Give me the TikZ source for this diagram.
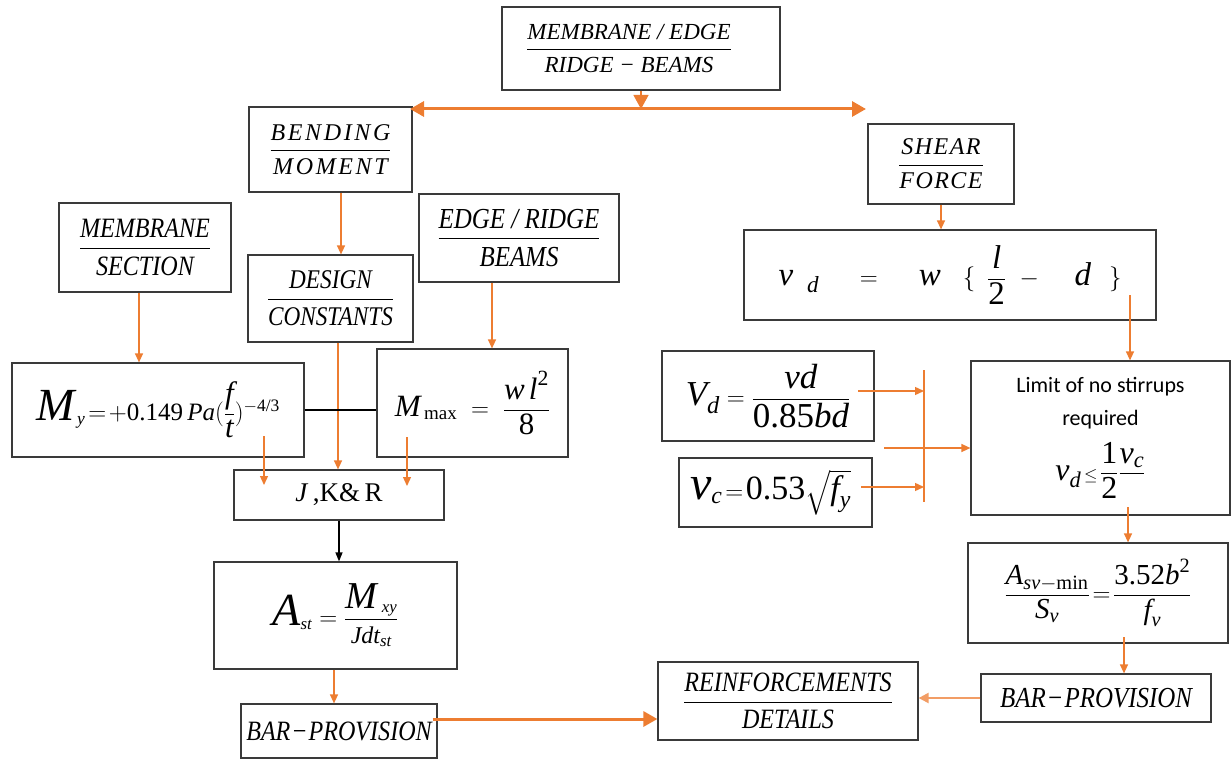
\documentclass[tikz,border=0pt]{standalone}
\usepackage{amsmath}
\usepackage{fontspec}
\setmainfont{Liberation Serif}
\newfontfamily\calibri{Carlito}
\newfontfamily\cnd[FakeStretch=0.86]{Liberation Serif}
\usetikzlibrary{arrows.meta,calc}
\definecolor{orng}{HTML}{ED7D31}
\definecolor{bord}{HTML}{3A3A3A}
\newcommand{\wf}[2]{$\genfrac{}{}{0.9pt}{0}{\mbox{\rule[-0.12em]{0pt}{0pt}#1}}{\mbox{\rule{0pt}{0.85em}#2}}$}
\newcommand{\fs}[1]{\fontsize{#1}{#1}\selectfont}
\newcommand{\mi}[1]{\text{\rmfamily\itshape #1}}
\newcommand{\nr}[1]{\text{\rmfamily\upshape #1}}
\tikzset{
  blk/.style={draw=bord, line width=1.2pt, inner sep=0pt, align=center, text=black},
  oa/.style={draw=orng, line width=1.3pt, -{Triangle[length=9pt,width=8pt]}},
  othick/.style={draw=orng, line width=3pt, -{Triangle[length=14pt,width=15pt]}},
}
\begin{document}
\begin{tikzpicture}[x=1pt,y=-1pt]
\useasboundingbox (0,0) rectangle (1231,759);
% ---- nodes
\node[blk, minimum width=278pt, minimum height=83pt] (top) at (641,48.5)
  {\fs{23}\itshape\wf{MEMBRANE / EDGE}{RIDGE − BEAMS}\hspace*{24pt}};
\node[blk, minimum width=163pt, minimum height=85pt] (bend) at (330.5,149.5)
  {\fs{24}\itshape\addfontfeature{LetterSpace=11}\wf{BENDING}{MOMENT}};
\node[blk, minimum width=146pt, minimum height=80pt] (shear) at (941,164)
  {\fs{24}\itshape\addfontfeature{LetterSpace=6}\wf{SHEAR}{FORCE}};
\node[blk, minimum width=172pt, minimum height=89pt] (memsec) at (145,247.5)
  {\cnd\fs{28}\itshape\wf{MEMBRANE}{SECTION}};
\node[blk, minimum width=165pt, minimum height=87pt] (design) at (330.5,298.5)
  {\cnd\fs{27}\itshape\wf{DESIGN}{CONSTANTS}};
\node[blk, minimum width=200pt, minimum height=88pt] (edge) at (519,238)
  {\cnd\fs{29}\itshape\wf{EDGE / RIDGE}{BEAMS}};
\node[blk, minimum width=292pt, minimum height=94pt] (my) at (158,410)
  {\fs{25}$\mbox{\fs{46}$\mi{M}$}_{\,\mi{y}}\!=\!+\nr{0.149}\,\mi{Pa}(\mbox{\fs{31}$\dfrac{\mi{f}}{\mi{t}}$})^{-\nr{4/3}}$};
\node[blk, minimum width=191pt, minimum height=108pt] (mmax) at (472.5,403)
  {\fs{31}$\mi{M}_{\,\mbox{\fs{19}max}}\;=\;\dfrac{\mi{w}\,\mi{l}^{\nr{2}}}{\nr{8}}$};
\node[blk, minimum width=210pt, minimum height=50pt] (jkr) at (339,495)
  {\fs{27}\textit{J}\,,K\&\,R};
\node[blk, minimum width=243pt, minimum height=107pt] (ast) at (335.5,615.5)
  {\fs{24}$\mbox{\fs{46}$\mi{A}$}_{\mi{st}} = \dfrac{\mbox{\fs{38}$\mi{M}$}_{\;\mi{xy}}}{\mi{Jdt}_{\mi{st}}}$};
\node[blk, minimum width=196pt, minimum height=54pt] (barL) at (339,731)
  {\cnd\fs{28}\itshape BAR\kern1pt−\kern1pt PROVISION};
\node[blk, minimum width=260pt, minimum height=78pt] (reinf) at (788,701)
  {\cnd\fs{28}\itshape\wf{REINFORCEMENTS}{DETAILS}};
\node[blk, minimum width=230pt, minimum height=48pt] (barR) at (1096,698)
  {\cnd\fs{29}\itshape BAR\kern1pt−\kern1pt PROVISION};
\node[blk, minimum width=260pt, minimum height=100pt] (asv) at (1098,593)
  {\fs{29}$\dfrac{\mi{A}_{\mi{sv}-\nr{min}}}{\mi{S}_{\mi{v}}}\!=\!\dfrac{\nr{3.52}\mi{b}^{\nr{2}}}{\mi{f}_{\mi{v}}}$};
\node[blk, minimum width=259pt, minimum height=154pt, font=\calibri\fs{22}] (limit) at (1100.5,438)
  {Limit of no stirrups\\[11pt]
   required\\[12pt]
   {\fs{32}$\mi{v}_{\mi{d}}\mbox{\fs{16}\,$\le$\,}\dfrac{\nr{1}}{\nr{2}}\dfrac{\mi{v}_{\mi{c}}}{\phantom{2}}$}};
\node[blk, minimum width=412pt, minimum height=90pt] (vdbox) at (950,275)
  {\fs{33}$\mi{v}_{\;\;\mi{d}}\hspace{34pt}=\hspace{34pt}\mi{w}\hspace{22pt}\{\hspace{12pt}\dfrac{\mi{l}}{\nr{2}}\hspace{8pt}-\hspace{30pt}\mi{d}\hspace{18pt}\}$};
\node[blk, minimum width=212pt, minimum height=90pt] (Vd) at (768,396)
  {\fs{35}$\mi{V}_{\mi{d}} = \dfrac{\mi{vd}}{\nr{0.85}\mi{bd}}$};
\node[blk, minimum width=193pt, minimum height=69pt] (vc) at (775.5,492.5)
  {\fs{34}$\mbox{\fs{48}$\mi{v}$}_{\mi{c}}\!=\!\nr{0.53}\sqrt{\mi{f}_{\mi{y}}}$\hspace*{10pt}};
% ---- helper coordinates
\coordinate (hlL) at (410,109);
\coordinate (hlR) at (866,109);
\coordinate (barT) at (924,370);
\coordinate (barB) at (924,502);
\coordinate (midS) at (884,448);
% ---- connectors
\draw[draw=orng, line width=1.3pt, -{Triangle[length=14pt,width=15pt]}] (top.south) -- (top.south |- hlL);
\draw[draw=orng, line width=3pt, {Triangle[length=14pt,width=15pt]}-{Triangle[length=14pt,width=15pt]}] (hlL) -- (hlR);
\draw[oa] ([xshift=10.5pt]bend.south) -- ([xshift=10.5pt]design.north);
\draw[oa] ([xshift=-6pt]memsec.south) -- ([xshift=-6pt]memsec.south |- my.north);
\draw[oa] ([xshift=-27pt]edge.south) -- ([xshift=-27pt]edge.south |- mmax.north);
\draw[oa] ([xshift=7.5pt]design.south) -- ([xshift=7.5pt]design.south |- jkr.north);
\draw[draw=black, line width=1.2pt] (my.east) -- (mmax.west |- my.east);
\coordinate (a1) at ($(my.center)+(106,26)$);
\draw[oa] (a1) -- (a1 |- 0,485);
\coordinate (a2) at ($(mmax.center)+(-65.5,34)$);
\draw[oa] (a2) -- (a2 |- 0,486);
\draw[draw=black, line width=1.3pt, -{Triangle[length=9pt,width=7pt]}] (jkr.south) -- (jkr.south |- ast.north);
\draw[oa] ([xshift=-1.5pt]ast.south) -- ([xshift=-1.5pt]ast.south |- barL.north);
\coordinate (a3) at ($(barL.east)+(-5,-12)$);
\draw[othick] (a3) -- (reinf.west |- a3);
\draw[oa] (shear.south) -- (shear.south |- vdbox.north);
\coordinate (a4) at ($(vdbox.center)+(180,20)$);
\draw[oa] (a4) -- (a4 |- limit.north);
\draw[draw=orng, line width=1.3pt] (barT) -- (barB);
\coordinate (a5) at ($(Vd.center)+(90,-5)$);
\draw[oa] (a5) -- (barT |- a5);
\coordinate (a6) at ($(vc.center)+(85.5,-5.5)$);
\draw[oa] (a6) -- (barT |- a6);
\draw[oa] (midS) -- (limit.west |- midS);
\coordinate (a7) at ($(limit.center)+(27.5,69)$);
\draw[oa] (a7) -- (a7 |- asv.north);
\coordinate (a8) at ($(asv.center)+(26,44)$);
\draw[oa] (a8) -- (a8 |- barR.north);
\draw[draw=orng!75, line width=2.2pt, -{Triangle[length=10pt,width=10pt]}] (barR.west) -- (reinf.east |- barR.west);
\end{tikzpicture}
\end{document}
